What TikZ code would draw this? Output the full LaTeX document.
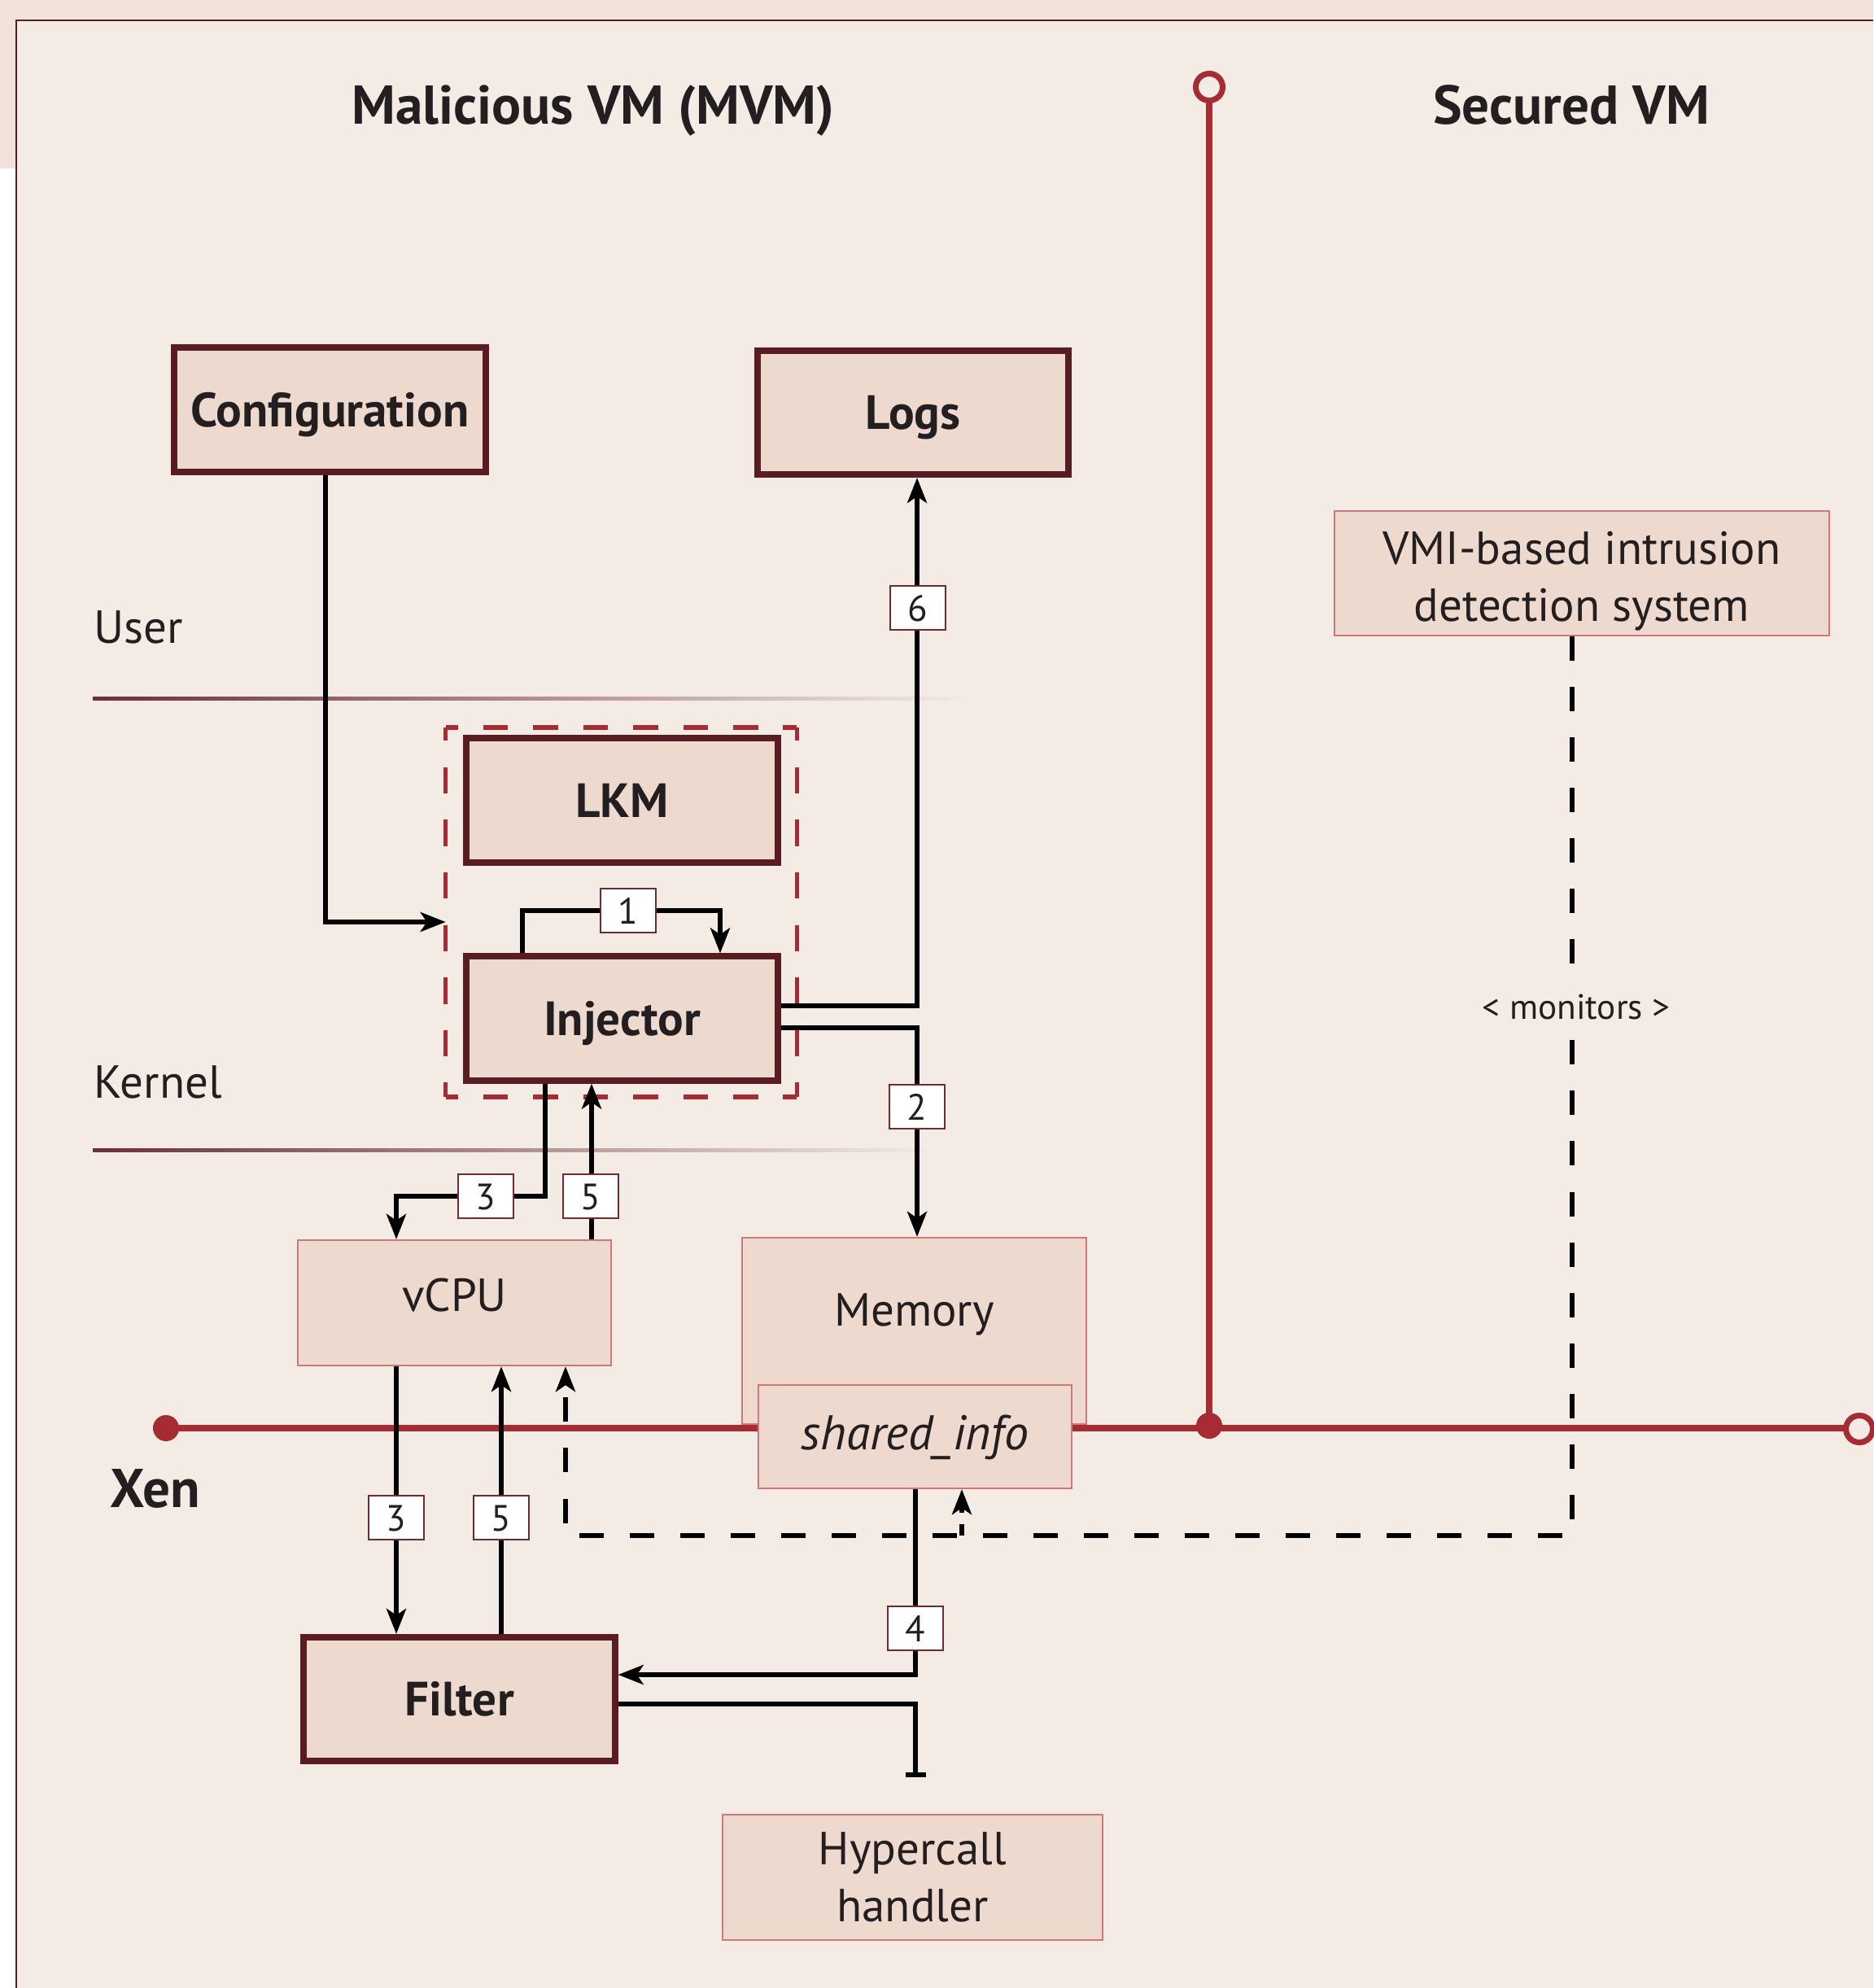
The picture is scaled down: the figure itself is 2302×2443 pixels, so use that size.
\documentclass[tikz,border=0pt]{standalone}
\usepackage{fontspec}
\setmainfont{PT Sans}
\usetikzlibrary{arrows.meta,calc}
\definecolor{bg}{HTML}{F4EBE4}
\definecolor{topstrip}{HTML}{F1E3DB}
\definecolor{boxfill}{HTML}{EDD9CE}
\definecolor{darkb}{HTML}{5A1C23}
\definecolor{xenred}{HTML}{A62B33}
\definecolor{thinb}{HTML}{CF777A}
\definecolor{lblb}{HTML}{6E2C32}
\definecolor{ink}{HTML}{231F20}
\begin{document}
\begin{tikzpicture}[x=0.01cm,y=-0.01cm,
  bigbox/.style={draw=darkb, line width=2.28pt, fill=boxfill, minimum width=3.82cm, minimum height=1.52cm, inner sep=0pt, text=ink, font=\fontsize{16.8pt}{20pt}\selectfont\bfseries, text height=0.41cm, text depth=0pt},
  thinbox/.style={draw=thinb, line width=0.6pt, fill=boxfill, inner sep=0pt, text=ink, font=\fontsize{16.2pt}{19.8pt}\selectfont},
  lbl/.style={draw=lblb, line width=0.75pt, fill=white, minimum width=0.68cm, minimum height=0.54cm, inner sep=0pt, text=ink, font=\fontsize{12.8pt}{14pt}\selectfont, text height=0.32cm, text depth=0pt},
  conn/.style={line width=1.6pt, draw=black},
  tip/.style={-{Stealth[length=0.31cm,width=0.24cm,inset=0.08cm]}},
  arr/.style={conn, tip},
  dsh/.style={line width=1.6pt, draw=black, dash pattern=on 0.30cm off 0.32cm},
  grpdash/.style={draw=xenred, line width=1.6pt},
  redl/.style={draw=xenred, line width=2.28pt},
  ttl/.style={font=\fontsize{19.1pt}{23pt}\selectfont\bfseries, text=ink, inner sep=0pt},
  side/.style={font=\fontsize{16.2pt}{19.8pt}\selectfont, text=ink, inner sep=0pt},
]
\useasboundingbox (0,0) rectangle (2302,2443);
% background
\fill[bg] (0,0) rectangle (2302,2443);
\fill[topstrip] (0,0) rectangle (2302,25);
\fill[topstrip] (0,0) rectangle (19,207);
\fill[white] (0,207) rectangle (19,2443);
\draw[darkb, line width=0.8pt] (20,2443) -- (20,25) -- (2302,25);

% titles and side labels
\node[ttl, anchor=base] (t1) at (729,153) {Malicious VM (MVM)};
\node[ttl, anchor=base] (t2) at (1931,153) {Secured VM};
\node[side, anchor=base west] (user) at (115,790) {User};
\node[side, anchor=base west] (kernel) at (115,1349) {Kernel};
\node[ttl, anchor=base west] (xen) at (135,1852) {Xen};

% separators
\shade[left color=darkb!90!bg, right color=bg] (114,856) rectangle (1190,860);
\shade[left color=darkb!90!bg, right color=bg] (114,1411) rectangle (1150,1415);

% Xen / VM separation lines
\draw[redl] (204,1755) -- (2268,1755);
\draw[redl] (1486,124) -- (1486,1755);
\fill[xenred] (204,1755) circle (0.16cm);
\fill[xenred] (1486,1752) circle (0.16cm);
\draw[xenred, line width=2pt, fill=bg] (1486,107) circle (0.165cm);
\draw[xenred, line width=2pt, fill=bg] (2285,1756) circle (0.165cm);

% boxes
\node[bigbox] (config) at (405.5,503.5) {Configuration};
\node[bigbox] (logs) at (1122,507) {Logs};
\node[minimum width=4.30cm, minimum height=4.52cm, inner sep=0pt] (grp) at (763.5,1121) {};
\draw[grpdash, dash pattern=on 0.307cm off 0.307cm, dash phase=0.1535cm] (grp.north west) -- (grp.north east);
\draw[grpdash, dash pattern=on 0.307cm off 0.307cm, dash phase=0.1535cm] (grp.south west) -- (grp.south east);
\draw[grpdash, dash pattern=on 0.323cm off 0.323cm, dash phase=0.1615cm] (grp.north west) -- (grp.south west);
\draw[grpdash, dash pattern=on 0.323cm off 0.323cm, dash phase=0.1615cm] (grp.north east) -- (grp.south east);
\node[bigbox] (lkm) at (764.5,983.5) {LKM};
\node[bigbox] (inj) at (764.5,1251.5) {Injector};
\node[bigbox] (filter) at (564.5,2088) {Filter};

\node[thinbox, minimum width=3.85cm, minimum height=1.54cm, text height=0.40cm, text depth=0.20cm] (vcpu) at (558.5,1601) {vCPU};
\node[thinbox, minimum width=4.23cm, minimum height=2.29cm, text height=0.40cm, text depth=0.53cm] (mem) at (1123.5,1635.5) {Memory};
\node[thinbox, minimum width=3.85cm, minimum height=1.27cm, font=\fontsize{17pt}{20pt}\selectfont\itshape, text height=0.44cm, text depth=0.12cm] (shared) at (1124.5,1765.5) {shared\_info};
\node[thinbox, minimum width=6.08cm, minimum height=1.53cm, align=center] (vmi) at (1944,704.5) {\rule{0pt}{0.6cm}VMI-based intrusion\\detection system};
\node[thinbox, minimum width=4.67cm, minimum height=1.54cm, align=center] (hyp) at (1121.5,2307) {Hypercall\\handler};

% connectors
\draw[arr] ([xshift=-0.055cm]config.south) |- (grp.west |- 0,1133);
\draw[arr] (inj.north -| 642,0) |- (885,1119) -- (inj.north -| 885,0);
\draw[arr] (inj.east |- 0,1236) -| (logs.south -| 1127,0);
\draw[arr] (inj.east |- 0,1263) -| (mem.north -| 1127,0);
\draw[arr] (inj.south -| 670,0) |- (487,1470) -- (vcpu.north -| 487,0);
\draw[arr] (vcpu.north -| 727,0) -- (inj.south -| 727,0);
\draw[arr] (vcpu.south -| 487,0) -- (filter.north -| 487,0);
\draw[arr] (filter.north -| 616,0) -- (vcpu.south -| 616,0);
\draw[arr] (shared.south -| 1125,0) |- (filter.east |- 0,2058);
\coordinate (hcend) at (1125,2184);
\draw[conn, -{Bar[width=0.25cm,line width=1.6pt]}] (filter.east |- 0,2094) -| (hcend);

% monitoring (dashed)
\draw[dsh, tip] (vmi.south -| 1932,0) |- (695,1887) -- (vcpu.south -| 695,0);
\draw[line width=1.6pt, draw=black, dash pattern=on 0.14cm off 0.14cm, tip] (1182,1887) -- (shared.south -| 1182,0);
\node[fill=bg, inner sep=0.12cm, font=\fontsize{12.3pt}{15pt}\selectfont, text=ink] (mon) at (1937,1237) {< monitors >};

% step labels
\node[lbl] (n1) at (772,1119) {1};
\node[lbl] (n6) at (1128,747) {6};
\node[lbl] (n2) at (1127,1360) {2};
\node[lbl] (n3a) at (597,1470) {3};
\node[lbl] (n5a) at (726,1470) {5};
\node[lbl] (n3b) at (487,1865) {3};
\node[lbl] (n5b) at (616,1865) {5};
\node[lbl] (n4) at (1125,2001) {4};
\end{tikzpicture}
\end{document}
